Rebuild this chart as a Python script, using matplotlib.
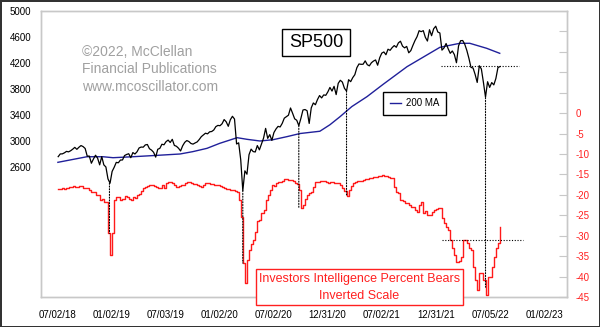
import numpy as np
import pandas as pd
import matplotlib
matplotlib.use('Agg')
from matplotlib import pyplot as plt
from matplotlib import dates as mdates
from matplotlib.patches import ConnectionPatch, Rectangle

plt.rcParams['font.family'] = ['Liberation Sans', 'DejaVu Sans']

#weekly data, first week ending 07/06/18
weeks = pd.date_range('2018-07-06', periods=214, freq='7D')

sp500 = [2759, 2801, 2802, 2818, 2840, 2833, 2850, 2874, 2902, 2872, 2904, 2930, 2914,
         2885, 2767, 2768, 2658, 2723, 2781, 2736, 2633, 2760, 2633, 2600, 2417, 2351,
         2532, 2596, 2671, 2665, 2707, 2708, 2776, 2793, 2804, 2743, 2822, 2800, 2834,
         2893, 2907, 2905, 2940, 2946, 2881, 2860, 2826, 2752, 2873, 2887, 2950, 2942,
         2990, 3014, 2977, 3026, 2932, 2919, 2889, 2847, 2926, 2979, 3007, 2992, 2962,
         2952, 2970, 2986, 3023, 3067, 3093, 3120, 3110, 3141, 3146, 3169, 3221, 3240,
         3235, 3265, 3330, 3295, 3226, 3328, 3380, 3338, 2954, 2972, 2711, 2237, 2541,
         2489, 2790, 2875, 2837, 2831, 2930, 2864, 2955, 3044, 3194, 3041, 3098, 3009,
         3130, 3185, 3225, 3216, 3271, 3351, 3373, 3397, 3508, 3427, 3341, 3319, 3237,
         3348, 3477, 3484, 3465, 3270, 3510, 3585, 3558, 3638, 3699, 3663, 3709, 3703,
         3756, 3824, 3768, 3841, 3714, 3887, 3934, 3906, 3811, 3768, 3943, 3913, 3975,
         4020, 4129, 4185, 4180, 4181, 4233, 4174, 4156, 4204, 4230, 4247, 4166, 4281,
         4352, 4370, 4327, 4412, 4395, 4437, 4468, 4442, 4509, 4535, 4459, 4433, 4455,
         4357, 4391, 4471, 4545, 4605, 4697, 4682, 4698, 4595, 4538, 4712, 4620, 4726, 4766,
         4677, 4662, 4398, 4432, 4500, 4419, 4349, 4385, 4329, 4204, 4463, 4543, 4546,
         4488, 4393, 4272, 4132, 4123, 4024, 3901, 4158, 4109, 3901, 3675, 3912, 3825,
         3899, 3863, 3962, 4130, 4145]

#Investors Intelligence percent bears, inverted
bears = [-18.6, -18.5, -18.4, -18.5, -18.3, -18.0, -18.0, -17.9, -18.1, -18.0,
         -17.8, -17.9, -18.2, -18.4, -18.2, -18.7, -19.3, -19.3, -20.0, -20.0,
         -21.3, -21.0, -21.7, -21.7, -29.4, -34.8, -29.4, -21.3, -20.5, -20.5,
         -21.3, -21.0, -20.3, -20.5, -21.0, -21.3, -20.5, -20.7, -20.0, -19.7,
         -19.0, -18.4, -18.0, -17.8, -17.6, -17.6, -17.9, -18.0, -18.2, -18.3,
         -17.5, -18.3, -17.2, -16.8, -16.9, -17.1, -17.6, -18.0, -17.8, -17.5,
         -17.6, -17.2, -16.9, -16.8, -17.1, -17.3, -17.4, -17.6, -17.9, -18.0,
         -17.5, -17.1, -17.0, -17.3, -17.4, -17.6, -17.5, -17.7, -17.8, -18.0,
         -18.4, -18.5, -18.6, -18.8, -18.9, -19.1, -19.3, -21.3, -25.4, -36.7,
         -41.6, -36.0, -33.5, -32.0, -31.0, -29.1, -26.5, -26.2, -24.5, -23.7,
         -21.3, -20.0, -18.8, -17.6, -17.8, -17.2, -16.9, -16.9, -16.6, -16.2,
         -16.2, -16.4, -16.3, -16.6, -17.1, -17.4, -18.8, -23.3, -22.5, -21.0,
         -20.0, -19.6, -19.3, -18.0, -16.9, -16.8, -16.6, -16.5, -16.7, -16.9,
         -17.0, -16.8, -16.9, -17.0, -17.1, -17.1, -17.6, -18.4, -19.0, -20.3,
         -18.8, -17.8, -17.0, -16.9, -16.7, -16.6, -16.6, -16.4, -16.2, -16.0,
         -15.9, -15.9, -15.7, -15.6, -15.4, -15.3, -15.2, -15.4, -15.3, -15.6,
         -15.9, -15.9, -18.1, -19.3, -19.5, -21.3, -21.5, -22.0, -22.0, -22.4,
         -23.0, -23.0, -23.6, -24.2, -22.5, -21.8, -24.5, -24.0, -25.0, -25.0,
         -24.3, -23.7, -23.5, -23.3, -23.3, -25.7, -26.8, -27.9, -28.5, -31.1,
         -33.0, -34.8, -36.5, -36.2, -35.2, -31.1, -31.1, -31.8, -33.0, -33.5,
         -37.7, -40.9, -43.3, -39.2, -39.2, -40.9, -44.5, -40.1, -40.1, -37.7,
         -35.2, -33.0, -31.8, -27.9]

#200 day moving average
ma_dates = pd.to_datetime(['2018-07-05', '2018-10-11', '2018-12-04', '2019-01-07', '2019-03-15',
                           '2019-06-04', '2019-08-21', '2019-10-03', '2019-11-20', '2020-01-02',
                           '2020-03-01', '2020-04-03', '2020-05-17', '2020-06-30', '2020-08-16',
                           '2020-09-29', '2020-12-05', '2021-01-08', '2021-02-11', '2021-03-23',
                           '2021-05-13', '2021-07-06', '2021-09-25', '2021-12-01', '2022-01-14',
                           '2022-03-22', '2022-04-25', '2022-06-21', '2022-08-04'])
ma200 = [2672, 2758, 2758, 2743, 2758, 2779, 2800, 2836, 2887, 2964,
         3051, 3026, 3000, 3020, 3067, 3115, 3150, 3250, 3374, 3530,
         3682, 3870, 4143, 4323, 4441, 4503, 4503, 4426, 4349]

tick_dates = pd.to_datetime(['2018-07-02', '2019-01-02', '2019-07-03', '2020-01-02', '2020-07-02',
                             '2020-12-31', '2021-07-02', '2021-12-31', '2022-07-05', '2023-01-02'])
tick_labels = ['07/02/18', '01/02/19', '07/03/19', '01/02/20', '07/02/20',
               '12/31/20', '07/02/21', '12/31/21', '07/05/22', '01/02/23']
sp_ticks = [2600, 3000, 3400, 3800, 4200, 4600, 5000]
bear_ticks = [-45, -40, -35, -30, -25, -20, -15, -10, -5, 0, 5, 10, 15, 20]

#lows joined by dotted lines
low_dates = pd.to_datetime(['2018-12-26', '2020-03-20', '2020-09-25', '2021-03-05', '2022-06-17'])
low_sp = [2351, 2237, 3237, 3768, 3667]
low_bears = [-29.4, -36.7, -23.3, -20.3, -42.6]

fig = plt.figure(figsize=(6, 3.27), dpi=100, facecolor='white', edgecolor='#333333', linewidth=2)
ax = fig.add_axes([41 / 600, 1 - 297 / 327, 526 / 600, 286 / 327])
ax2 = ax.twinx()

ma_line, = ax.plot(ma_dates, ma200, color='#20209a', lw=1, label='200 MA')
ax.plot(weeks, sp500, color='black', lw=0.9)
ax2.step(weeks, bears, where='post', color='#ff1a1a', lw=1)

ax.set_xlim(pd.Timestamp('2018-05-09'), pd.Timestamp('2023-03-19'))
ax.set_ylim(600, 5000)
ax2.set_ylim(-45, 25)

ax.set_xticks(tick_dates)
ax.set_xticklabels(tick_labels)
ax.set_yticks(sp_ticks)
ax.set_yticklabels([str(t) for t in sp_ticks])
ax.tick_params(axis='x', length=0, pad=9, labelsize=7)
ax.tick_params(axis='y', length=0, pad=7, labelsize=7)

ax2.set_yticks(bear_ticks)
ax2.set_yticklabels([str(t) if t <= 0 else '' for t in bear_ticks])
ax2.tick_params(axis='y', direction='in', length=6, color='#c8c8c8', labelcolor='#ff2020',
                pad=6, labelsize=7)

for a in (ax, ax2):
    for s in a.spines.values():
        s.set_color('#c8c8c8')
        s.set_linewidth(1)

#dotted connectors
dots = (0, (1, 1.5))
for d, s, b in zip(low_dates, low_sp, low_bears):
    x = mdates.date2num(d)
    con = ConnectionPatch(xyA=(x, s), coordsA=ax.transData, xyB=(x, b), coordsB=ax2.transData,
                          color='black', lw=0.8, linestyle=dots)
    fig.add_artist(con)
ax.plot(pd.to_datetime(['2022-01-18', '2022-10-09']), [4150, 4150], color='black', lw=0.8, linestyle=dots)
ax2.plot(pd.to_datetime(['2022-01-20', '2022-10-20']), [-31, -31], color='black', lw=0.8, linestyle=dots)

leg = ax2.legend(handles=[ma_line], loc='center', bbox_to_anchor=(0.71, 0.677), fontsize=7,
                 fancybox=False, edgecolor='black', framealpha=1, handlelength=1.2,
                 borderpad=0.7, handletextpad=0.5)
leg.get_frame().set_linewidth(1)

#watermark
fig.text(82 / 600, 1 - 52 / 327, '\u00a92022, McClellan', color='#a0a0a0', fontsize=10, va='center')
fig.text(82 / 600, 1 - 69 / 327, 'Financial Publications', color='#a0a0a0', fontsize=10, va='center')
fig.text(82 / 600, 1 - 87 / 327, 'www.mcoscillator.com', color='#a0a0a0', fontsize=10, va='center')

#title box
fig.add_artist(Rectangle((282 / 600, 1 - 56 / 327), 68 / 600, 27 / 327, transform=fig.transFigure,
                         facecolor='white', edgecolor='black', lw=1, zorder=5))
fig.text(316 / 600, 1 - 42.5 / 327, 'SP500', fontsize=13, ha='center', va='center', zorder=6)

#bears label box
fig.add_artist(Rectangle((256 / 600, 1 - 305 / 327), 207 / 600, 36 / 327, transform=fig.transFigure,
                         facecolor='white', edgecolor='#ff2020', lw=1, zorder=5))
fig.text(359.5 / 600, 1 - 279 / 327, 'Investors Intelligence Percent Bears', color='#ff2020',
         fontsize=9, ha='center', va='center', zorder=6)
fig.text(359.5 / 600, 1 - 296 / 327, 'Inverted Scale', color='#ff2020',
         fontsize=9, ha='center', va='center', zorder=6)

plt.savefig('out.png', dpi=100)
